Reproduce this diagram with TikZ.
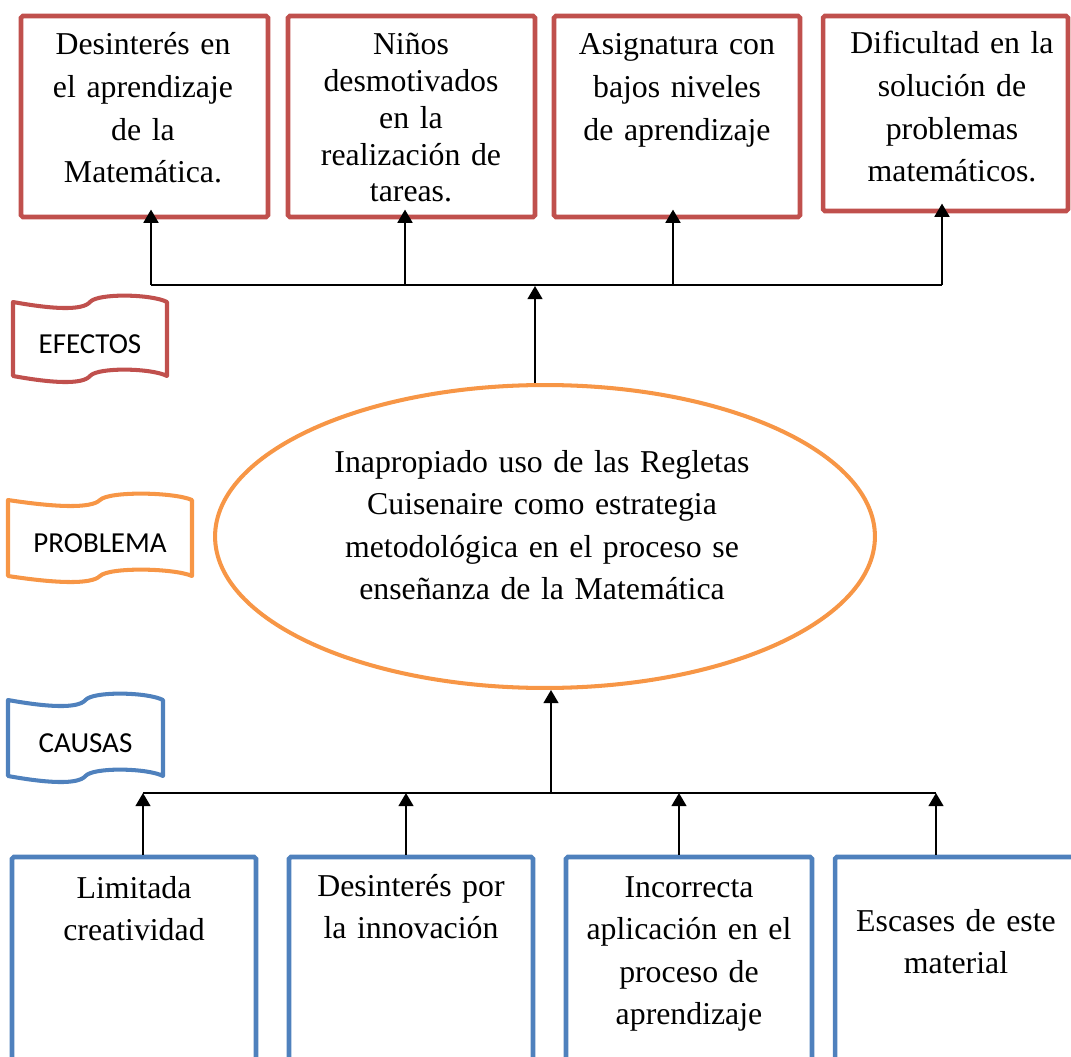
\documentclass[tikz,border=0pt]{standalone}
\usepackage{fontspec}
\setmainfont{Liberation Serif}
\newfontfamily\calibri{Carlito}
\usetikzlibrary{arrows.meta,shapes.geometric}
\definecolor{rojo}{HTML}{C0504D}
\definecolor{naranja}{HTML}{F79646}
\definecolor{azul}{HTML}{4F81BD}
\def\fs{\fontsize{18.1}{24.2}\selectfont}

% banner: name, left, top, right, bottom, colour, text
\newcommand{\bandera}[7]{%
  \draw[#6, line width=2.3pt, line join=round]
    (#2,#3) .. controls ({#2+0.25*(#4-#2)},{#3+7}) and ({#2+0.45*(#4-#2)},{#3+9}) .. ({(#2+#4)/2},#3)
    .. controls ({#2+0.55*(#4-#2)},{#3-9}) and ({#2+0.9*(#4-#2)},{#3-8}) .. (#4,#3)
    -- (#4,#5)
    .. controls ({#2+0.9*(#4-#2)},{#5-8}) and ({#2+0.55*(#4-#2)},{#5-9}) .. ({(#2+#4)/2},#5)
    .. controls ({#2+0.45*(#4-#2)},{#5+9}) and ({#2+0.25*(#4-#2)},{#5+7}) .. (#2,#5) -- cycle;
  \node[font=\calibri\fontsize{16.5}{20}\selectfont] (#1) at ({(#2+#4)/2},{(#3+#5)/2+5}) {#7};
}

\tikzset{
  efecto/.style={draw=rojo, line width=2.6pt, rounded corners=1pt, inner sep=0pt},
  causa/.style={draw=azul, line width=2.6pt, rounded corners=1pt, inner sep=0pt},
  txt/.style={anchor=base, align=center, text width=4.8cm, inner sep=0pt, font=\fs},
  arr/.style={-{Triangle[width=8.5pt,length=7.5pt]}, line width=1.1pt},
  barra/.style={line width=1.1pt}
}

\begin{document}
\begin{tikzpicture}[x=0.02cm, y=-0.02cm]
        \useasboundingbox (0,0) rectangle (1071,1057);
        \clip (0,0) rectangle (1071,1057);

        % efectos
        \node[efecto, minimum width=4.94cm, minimum height=4.02cm] (e1) at (144.5,116.5) {};
        \node[efecto, minimum width=4.94cm, minimum height=4.02cm] (e2) at (411.5,116.5) {};
        \node[efecto, minimum width=4.92cm, minimum height=4.02cm] (e3) at (677,116.5) {};
        \node[efecto, minimum width=4.90cm, minimum height=3.90cm] (e4) at (945.5,113.5) {};
        \node[txt] (te1) at (143,55) {Desinterés en\\el aprendizaje\\de la\\Matemática.};
        \node[txt, font=\fontsize{18.1}{20.9}\selectfont] (te2) at (411,55) {Niños\\desmotivados\\en la\\realización de\\tareas.};
        \node[txt] (te3) at (677,55) {Asignatura con\\bajos niveles\\de aprendizaje};
        \node[txt] (te4) at (952,54) {Dificultad en la\\solución de\\problemas\\matemáticos.};

        % problema
        \node[draw=naranja, line width=2.3pt, ellipse, inner sep=0pt,
              minimum width=13.2cm, minimum height=6.06cm] (prob) at (545,536.5) {};
        \node[txt, text width=9cm] (tprob) at (542,472) {Inapropiado uso de las Regletas\\Cuisenaire como estrategia\\metodológica en el proceso se\\enseñanza de la Matemática};

        % causas
        \node[causa, minimum width=4.88cm, minimum height=4.46cm] (c1) at (134,968.5) {};
        \node[causa, minimum width=4.88cm, minimum height=4.46cm] (c2) at (411,968.5) {};
        \node[causa, minimum width=4.92cm, minimum height=4.46cm] (c3) at (689,968.5) {};
        \node[causa, minimum width=5.10cm, minimum height=4.46cm] (c4) at (962.5,968.5) {};
        \node[txt] (tc1) at (134,898) {Limitada\\creatividad};
        \node[txt] (tc2) at (411,896) {Desinterés por\\la innovación};
        \node[txt] (tc3) at (689,897) {Incorrecta\\aplicación en el\\proceso de\\aprendizaje};
        \node[txt] (tc4) at (956,931) {Escases de este\\material};

        % etiquetas
        \bandera{efectos}{13}{302}{167}{376}{rojo}{EFECTOS}
        \bandera{problema}{8}{500}{192}{576}{naranja}{PROBLEMA}
        \bandera{causas}{8}{700}{163}{776}{azul}{CAUSAS}

        % conectores arriba
        \coordinate (eb0) at (535,286);
        \coordinate (eb1) at (151,285);
        \coordinate (eb2) at (405,285);
        \coordinate (eb3) at (673,285);
        \coordinate (eb4) at (942,285);
        \draw[barra] (eb1) -- (eb4);
        \foreach \i in {1,...,4}
          \draw[arr, shorten >=-5.5pt] (eb\i) -- (eb\i |- e\i.south);
        \draw[arr] (prob.north -| eb0) -- (eb0);

        % conectores abajo
        \coordinate (cb0) at (551,793);
        \coordinate (cb1) at (143,793);
        \coordinate (cb2) at (406,793);
        \coordinate (cb3) at (679,793);
        \coordinate (cb4) at (936,793);
        \draw[barra] (cb1) -- (cb4);
        \foreach \i in {1,...,4}
          \draw[arr] (c\i.north -| cb\i) -- (cb\i);
        \draw[arr] (cb0) -- (cb0 |- prob.south);
    \end{tikzpicture}
\end{document}
